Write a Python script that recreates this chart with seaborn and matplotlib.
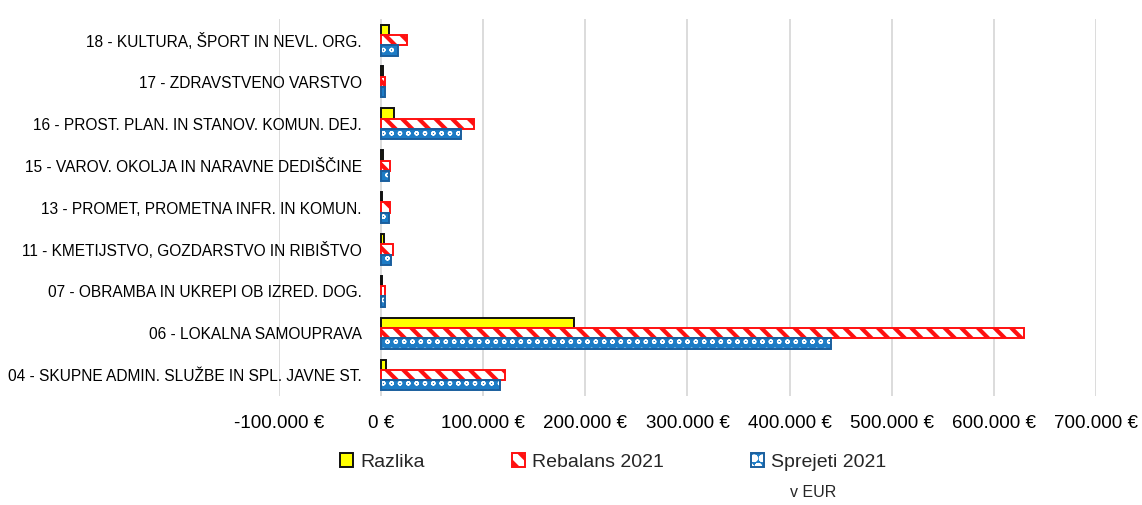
# proracun_po_podrocjih.py - primerjava sprejetega proracuna in rebalansa 2021 po podrocjih

import numpy as np
import pandas as pd
import seaborn as sns
import matplotlib.pyplot as plt
from matplotlib.colors import to_rgba
from matplotlib.patches import Patch
from matplotlib.ticker import FuncFormatter


kategorije = [
    "18 - KULTURA, ŠPORT IN NEVL. ORG.",
    "17 - ZDRAVSTVENO VARSTVO",
    "16 - PROST. PLAN. IN STANOV. KOMUN. DEJ.",
    "15 - VAROV. OKOLJA IN NARAVNE DEDIŠČINE",
    "13 - PROMET, PROMETNA INFR. IN KOMUN.",
    "11 - KMETIJSTVO, GOZDARSTVO IN RIBIŠTVO",
    "07 - OBRAMBA IN UKREPI OB IZRED. DOG.",
    "06 - LOKALNA SAMOUPRAVA",
    "04 - SKUPNE ADMIN. SLUŽBE IN SPL. JAVNE ST.",
]
razlika = [8000, 1500, 13000, 1500, 1000, 2500, 1000, 189000, 5000]
rebalans = [25000, 4000, 91000, 9000, 9000, 12000, 4000, 630000, 121000]
sprejeti = [17000, 3500, 78000, 8000, 8000, 9500, 3500, 441000, 116000]
serije = ["Razlika", "Rebalans 2021", "Sprejeti 2021"]
x_ticks = [-100000, 0, 100000, 200000, 300000, 400000, 500000, 600000, 700000]

# barve in vzorci za vsako serijo
stili = {
    "Razlika": dict(face="#ffff00", edge="#111111", hatch=None, hcol=None, hlw=1.0),
    "Rebalans 2021": dict(face="white", edge="#ff1010", hatch="\\\\", hcol="#ff1010", hlw=3.0),
    "Sprejeti 2021": dict(face="#1d7cc6", edge="#1a5f9e", hatch="oo", hcol="white", hlw=0.9),
}

df = pd.DataFrame({
    "kategorija": kategorije * 3,
    "serija": np.repeat(serije, len(kategorije)),
    "vrednost": razlika + rebalans + sprejeti,
})

sns.set_style("white")
plt.rcParams["font.family"] = ["Liberation Sans", "DejaVu Sans"]
plt.rcParams["hatch.linewidth"] = 3.0


def nastavi_vzorec(p, s):
    p.set_facecolor(s["face"])
    p.set_edgecolor(s["edge"])
    p.set_linewidth(1.4)
    if s["hatch"]:
        p.set_hatch(s["hatch"])
        p._hatch_color = to_rgba(s["hcol"])
        if hasattr(p, "set_hatch_linewidth"):
            p.set_hatch_linewidth(s["hlw"])


fig = plt.figure(figsize=(11.42, 5.05), dpi=100)
ax = fig.add_axes([0.2443, 0.216, 0.7154, 0.746])

sns.barplot(
    data=df, x="vrednost", y="kategorija", hue="serija",
    order=kategorije, hue_order=serije, orient="h",
    width=0.74, legend=False, ax=ax,
)

for serija, cont in zip(serije, ax.containers):
    for p in cont:
        nastavi_vzorec(p, stili[serija])

ax.set_xlim(-100000, 700000)
ax.set_xticks(x_ticks)
ax.xaxis.set_major_formatter(FuncFormatter(lambda v, _: f"{int(v):,}".replace(",", ".") + " €"))
ax.grid(axis="x", color="#d9d9d9", linewidth=1.3)
ax.set_axisbelow(True)
# kategorijska os seka pri 0, oznake so tik ob njej
ax.spines["left"].set_position(("data", 0))
for sp in ax.spines.values():
    sp.set_visible(False)
ax.tick_params(axis="x", labelsize=13.5, length=0, pad=14, colors="#000000")
ax.tick_params(axis="y", labelsize=11.2, length=0, pad=14, colors="#000000")
ax.set_xlabel("")
ax.set_ylabel("")

rocke = []
for serija in serije:
    h = Patch()
    nastavi_vzorec(h, stili[serija])
    rocke.append(h)

fig.legend(
    rocke, serije, loc="center", bbox_to_anchor=(0.537, 0.085), ncol=3,
    frameon=False, fontsize=14, handlelength=0.67, handleheight=0.67,
    handletextpad=0.36, columnspacing=4.5,
)
fig.text(0.692, 0.025, "v EUR", fontsize=11.5, ha="left", va="center")

fig.savefig("out.png", dpi=100)
